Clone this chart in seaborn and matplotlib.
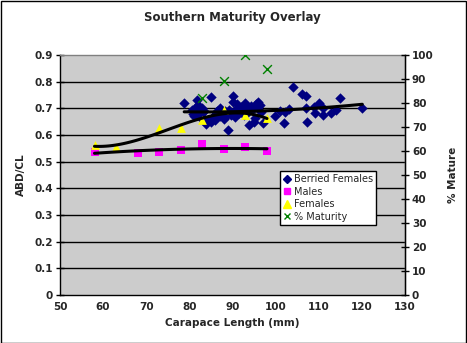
import matplotlib
matplotlib.use("Agg")
import matplotlib.pyplot as plt
import seaborn as sns
import numpy as np
import pandas as pd
from matplotlib.lines import Line2D
from matplotlib.patches import Rectangle

# ---- data ----
berried_x = [78.8, 80.5, 80.8, 81.0, 81.2, 81.5, 81.8, 82.0, 82.2, 82.3, 82.5, 82.8, 83.0, 83.2,
             83.5, 83.9, 84.3, 84.9, 85.0, 85.3, 85.6, 86.0, 86.2, 86.5, 87.0, 87.2, 87.8, 88.0,
             88.2, 88.6, 89.0, 89.3, 89.6, 90.0, 90.2, 90.4, 90.6, 91.0, 91.3, 91.6, 92.0, 92.3,
             92.6, 93.0, 93.2, 93.5, 93.9, 94.2, 94.5, 95.0, 95.2, 95.5, 95.9, 96.0, 96.3, 96.5,
             97.0, 99.9, 101.0, 102.0, 102.2, 103.0, 104.1, 106.0, 107.0, 107.0, 107.2, 109.0,
             109.1, 110.1, 111.0, 111.0, 112.8, 114.0, 114.9, 120.1]
berried_y = [0.719, 0.695, 0.680, 0.670, 0.688, 0.705, 0.731, 0.712, 0.700, 0.690, 0.676, 0.665,
             0.700, 0.685, 0.690, 0.640, 0.655, 0.741, 0.650, 0.662, 0.672, 0.656, 0.680, 0.690,
             0.700, 0.672, 0.684, 0.660, 0.690, 0.670, 0.619, 0.695, 0.675, 0.746, 0.725, 0.690,
             0.668, 0.715, 0.700, 0.683, 0.705, 0.690, 0.675, 0.720, 0.700, 0.688, 0.638, 0.710,
             0.695, 0.650, 0.665, 0.718, 0.725, 0.706, 0.712, 0.685, 0.646, 0.671, 0.691, 0.646,
             0.685, 0.696, 0.779, 0.754, 0.746, 0.700, 0.650, 0.704, 0.684, 0.719, 0.700, 0.675,
             0.681, 0.694, 0.738, 0.700]

males_x = [58, 68, 73, 78, 83, 88, 93, 98]
males_y = [0.537, 0.534, 0.536, 0.544, 0.565, 0.546, 0.556, 0.541]

females_x = [58, 63, 73, 78, 83, 88, 93, 98]
females_y = [0.561, 0.554, 0.625, 0.625, 0.657, 0.692, 0.675, 0.663]

maturity_x = [83, 88, 93, 98]
maturity_pct = [82, 89, 100, 94]

x_ticks = [50, 60, 70, 80, 90, 100, 110, 120, 130]
left_ticks = [0, 0.1, 0.2, 0.3, 0.4, 0.5, 0.6, 0.7, 0.8, 0.9]
right_ticks = [0, 10, 20, 30, 40, 50, 60, 70, 80, 90, 100]

# ---- style ----
sns.set_style("white")
plt.rcParams['font.family'] = ['DejaVu Sans']
plt.rcParams['font.weight'] = 'bold'

W, H = 467, 343
fig = plt.figure(figsize=(W / 100, H / 100), dpi=100)
fig.patch.set_facecolor('white')
L, R, T, B = 60, 405, 55, 295
ax = fig.add_axes([L / W, 1 - B / H, (R - L) / W, (B - T) / H])
ax.set_facecolor('#CCCCCC')

navy = '#000080'
mag = '#FF00FF'
yel = '#FFFF00'
grn = '#008000'

bdf = pd.DataFrame({'x': berried_x, 'y': berried_y})
mdf = pd.DataFrame({'x': males_x, 'y': males_y})
fdf = pd.DataFrame({'x': females_x, 'y': females_y})
pdf = pd.DataFrame({'x': maturity_x, 'y': maturity_pct})

for yv in left_ticks[1:-1]:
    ax.axhline(yv, color='black', lw=1.0, zorder=0.5)

sns.scatterplot(data=bdf, x='x', y='y', ax=ax, marker='D', s=28, color=navy,
                edgecolor=navy, linewidth=0, zorder=3)
sns.scatterplot(data=mdf, x='x', y='y', ax=ax, marker='s', s=30, color=mag,
                edgecolor=mag, linewidth=0, zorder=3)
sns.scatterplot(data=fdf, x='x', y='y', ax=ax, marker='^', s=40, color=yel,
                edgecolor=yel, linewidth=0, zorder=3)

sns.regplot(data=bdf, x='x', y='y', ax=ax, order=2, ci=None, scatter=False,
            line_kws=dict(color='black', lw=2.2, zorder=4))
sns.regplot(data=mdf, x='x', y='y', ax=ax, order=2, ci=None, scatter=False,
            line_kws=dict(color='black', lw=2.2, zorder=4))
sns.regplot(data=fdf, x='x', y='y', ax=ax, order=3, ci=None, scatter=False,
            line_kws=dict(color='black', lw=2.2, zorder=4))

ax.set_xlim(50, 130)
ax.set_ylim(0, 0.9)
ax.set_xticks(x_ticks)
ax.set_yticks(left_ticks)
ax.set_xticklabels([str(v) for v in x_ticks], fontsize=7.5, fontweight='bold')
ax.set_yticklabels(['0' if v == 0 else f'{v:.1f}' for v in left_ticks], fontsize=7.5, fontweight='bold')
ax.tick_params(direction='inout', length=6, width=1, color='black', pad=2)
ax.set_xlabel('Carapace Length (mm)', fontsize=7.5, fontweight='bold', labelpad=4)
ax.set_ylabel('ABD/CL', fontsize=7.5, fontweight='bold', labelpad=6)

for s in ['left', 'bottom']:
    ax.spines[s].set_color('black')
    ax.spines[s].set_linewidth(1)
for s in ['top', 'right']:
    ax.spines[s].set_color('#808080')
    ax.spines[s].set_linewidth(1)

ax2 = ax.twinx()
sns.scatterplot(data=pdf, x='x', y='y', ax=ax2, marker='x', s=40, color=grn,
                linewidth=1, zorder=5)
ax2.set_ylim(0, 100)
ax2.set_yticks(right_ticks)
ax2.set_yticklabels([str(v) for v in right_ticks], fontsize=7.5, fontweight='bold')
ax2.tick_params(direction='inout', length=6, width=1, color='black', pad=2)
ax2.set_ylabel('% Mature', fontsize=7.5, fontweight='bold', rotation=90, labelpad=10)
ax2.spines['right'].set_color('black')
ax2.spines['right'].set_linewidth(1)
for s in ['left', 'top', 'bottom']:
    ax2.spines[s].set_visible(False)
ax2.set_xlim(50, 130)

handles = [
    Line2D([], [], linestyle='none', marker='D', color=navy, markersize=4.5),
    Line2D([], [], linestyle='none', marker='s', color=mag, markersize=5),
    Line2D([], [], linestyle='none', marker='^', color=yel, markersize=5.5),
    Line2D([], [], linestyle='none', marker='x', color=grn, markersize=5, markeredgewidth=1),
]
labels = ['Berried Females', 'Males', 'Females', '% Maturity']
leg = ax2.legend(handles, labels, loc='upper left', bbox_to_anchor=(0.638, 0.515),
                 frameon=True, fancybox=False, framealpha=1, edgecolor='black',
                 prop=dict(size=7, weight='normal'), handlelength=0.8, handletextpad=0.3,
                 borderpad=0.3, labelspacing=0.25, borderaxespad=0)
leg.get_frame().set_linewidth(1)
leg.set_zorder(10)

fig.text((L + R) / 2 / W, 1 - 18 / H, 'Southern Maturity Overlay', ha='center', va='center',
         fontsize=8.5, fontweight='bold')

fig.add_artist(Rectangle((0.5 / W, 0.5 / H), 1 - 1.5 / W, 1 - 1.5 / H, transform=fig.transFigure,
                         fill=False, edgecolor='black', lw=1))

fig.savefig('out.png', dpi=100, facecolor='white')
